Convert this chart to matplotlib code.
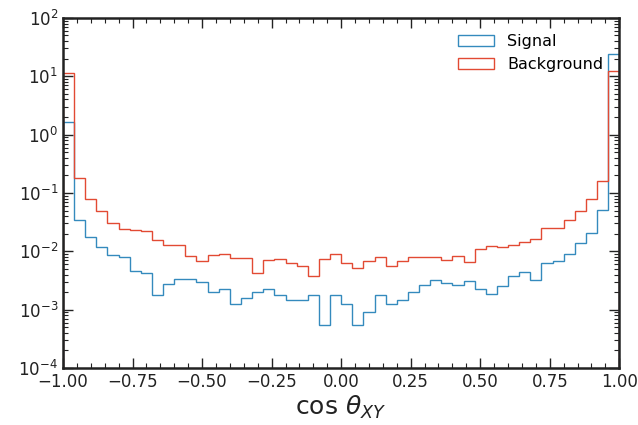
import numpy as np
import matplotlib
matplotlib.use("Agg")
import matplotlib.pyplot as plt
from matplotlib.ticker import MultipleLocator

# 50 bins of width 0.04 over [-1, 1]
bin_edges = np.linspace(-1.0, 1.0, 51)

signal = [1.63, 0.0344, 0.0178, 0.0117, 0.0088, 0.0080, 0.0046, 0.0043, 0.0018, 0.0028,
          0.0034, 0.0034, 0.0030, 0.0020, 0.0023, 0.00127, 0.0016, 0.0020, 0.0023, 0.0018,
          0.00145, 0.00145, 0.0018, 0.00054, 0.0018, 0.00127, 0.00054, 0.00091, 0.00176, 0.00126,
          0.00145, 0.0020, 0.0026, 0.0032, 0.0029, 0.0027, 0.0031, 0.0023, 0.00183, 0.0025,
          0.0038, 0.0045, 0.0032, 0.0063, 0.0069, 0.0090, 0.0137, 0.021, 0.051, 24.0]

background = [11.4, 0.178, 0.080, 0.049, 0.0306, 0.0238, 0.0229, 0.022, 0.0156, 0.0130,
              0.0128, 0.0084, 0.0067, 0.0087, 0.0091, 0.0077, 0.0077, 0.0043, 0.0070, 0.0074,
              0.0062, 0.0057, 0.0038, 0.0074, 0.0090, 0.0064, 0.0052, 0.0069, 0.0079, 0.0057,
              0.0068, 0.0080, 0.0080, 0.0080, 0.0072, 0.0084, 0.0066, 0.0111, 0.0122, 0.0117,
              0.0128, 0.0147, 0.0165, 0.0248, 0.0248, 0.0349, 0.0498, 0.080, 0.16, 12.5]

labels = ["Signal", "Background"]
colors = ["#348ABD", "#E24A33"]


def main():
    fig = plt.figure(figsize=(6.38, 4.25), dpi=100)
    ax = fig.add_axes([0.0987, 0.134, 0.872, 0.824])

    centers = 0.5 * (bin_edges[:-1] + bin_edges[1:])
    for vals, lab, col in zip([signal, background], labels, colors):
        ax.hist(centers, bins=bin_edges, weights=vals, histtype="step",
                color=col, linewidth=1.0, label=lab)

    ax.set_yscale("log")
    ax.set_xlim(-1, 1)
    ax.set_ylim(1e-4, 1e2)
    ax.xaxis.set_major_locator(MultipleLocator(0.25))
    ax.xaxis.set_minor_locator(MultipleLocator(0.05))

    ax.tick_params(which="both", direction="in", top=True, right=True,
                   labelsize=12, colors="#222222")
    ax.tick_params(which="major", length=7, width=1)
    ax.tick_params(which="minor", length=3.5, width=0.8)
    for s in ax.spines.values():
        s.set_linewidth(1.8)
        s.set_color("#222222")

    ax.set_xlabel(r"$\cos\,\theta_{XY}$", fontsize=18, color="#222222", labelpad=2)
    ax.legend(loc="upper right", frameon=False, fontsize=11.5,
              handlelength=2.3, borderaxespad=0.6)

    fig.savefig("out.png", dpi=100)


if __name__ == "__main__":
    main()
